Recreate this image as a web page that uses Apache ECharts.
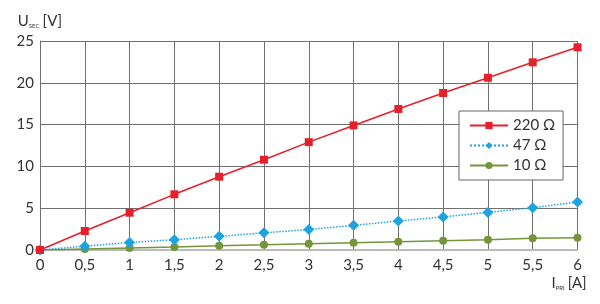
<!DOCTYPE html>
<html><head><meta charset="utf-8">
<script src="https://cdn.jsdelivr.net/npm/echarts@6/dist/echarts.min.js"></script>
<style>html,body{margin:0;padding:0;background:#fff}#c{width:600px;height:304px}</style>
</head><body><div id="c"></div>
<script>
const currents = [0, 0.5, 1, 1.5, 2, 2.5, 3, 3.5, 4, 4.5, 5, 5.5, 6];
const seriesNames = ['220 Ω', '47 Ω', '10 Ω'];
const v220 = [0, 2.27, 4.46, 6.66, 8.77, 10.8, 12.9, 14.9, 16.87, 18.78, 20.6, 22.45, 24.25];
const v47 = [0, 0.45, 0.9, 1.23, 1.63, 2.05, 2.45, 2.95, 3.47, 3.95, 4.5, 5.06, 5.74];
const v10 = [0, 0.12, 0.24, 0.36, 0.5, 0.62, 0.75, 0.88, 1.0, 1.12, 1.24, 1.4, 1.48];
const yTicks = [0, 5, 10, 15, 20, 25];

const pairs = vals => currents.map((x, i) => [x, vals[i]]);
const FONT = 'Lato';
const chart = echarts.init(document.getElementById('c'), null, {renderer: 'canvas'});
chart.setOption({
  animation: false,
  backgroundColor: '#fff',
  textStyle: {fontFamily: FONT},
  grid: {left: 40, right: 22.5, top: 41, bottom: 54, containLabel: false},
  legend: {
    orient: 'vertical', left: 459, top: 111,
    backgroundColor: '#fff', borderColor: '#666', borderWidth: 1,
    padding: [7, 8, 7, 10], itemGap: 5, itemWidth: 38, itemHeight: 9,
    textStyle: {fontFamily: FONT, fontSize: 15, color: '#333', lineHeight: 15, width: 42, overflow: 'none'},
    data: seriesNames
  },
  xAxis: {
    type: 'value', min: 0, max: 6, interval: 0.5,
    name: '{m|I}{s|PRI} {m|[A]}', nameLocation: 'end', nameGap: -26,
    nameTextStyle: {verticalAlign: 'top', padding: [26, 0, 0, 0],
      rich: {m: {fontSize: 15, color: '#333', fontFamily: FONT}, s: {fontSize: 6, color: '#333', fontFamily: FONT, verticalAlign: 'bottom', padding: [6,0,0,0]}}},
    axisLine: {show: true, lineStyle: {color: '#bbb', width: 2}},
    axisTick: {show: false},
    axisLabel: {fontSize: 15, color: '#333', margin: 8, formatter: v => String(v).replace('.', ',')},
    splitLine: {show: true, lineStyle: {color: '#707070', width: 1}}
  },
  yAxis: {
    type: 'value', min: 0, max: 25, interval: 5,
    name: '{m|U}{s|SEC} {m|[V]}', nameLocation: 'end', nameGap: 12,
    nameTextStyle: {align: 'center', padding: [0, 0, 0, 0],
      rich: {m: {fontSize: 15, color: '#333', fontFamily: FONT}, s: {fontSize: 6, color: '#333', fontFamily: FONT, verticalAlign: 'bottom', padding: [6,0,0,0]}}},
    axisLine: {show: true, lineStyle: {color: '#707070', width: 1}},
    axisTick: {show: false},
    axisLabel: {fontSize: 15, color: '#333', margin: 6},
    splitLine: {show: true, lineStyle: {color: '#707070', width: 1}}
  },
  series: [
    {name: seriesNames[0], type: 'line', data: pairs(v220), symbol: 'rect', symbolSize: 8,
     lineStyle: {color: '#e5202a', width: 1.5}, itemStyle: {color: '#e5202a'}, z: 5},
    {name: seriesNames[1], type: 'line', data: pairs(v47), symbol: 'diamond', symbolSize: 11,
     lineStyle: {color: '#1ea3e0', width: 1.5, type: 'dotted'}, itemStyle: {color: '#1ea3e0'}, z: 4},
    {name: seriesNames[2], type: 'line', data: pairs(v10), symbol: 'circle', symbolSize: 8,
     lineStyle: {color: '#76943a', width: 1.5}, itemStyle: {color: '#76943a'}, z: 3}
  ]
});
</script></body></html>
